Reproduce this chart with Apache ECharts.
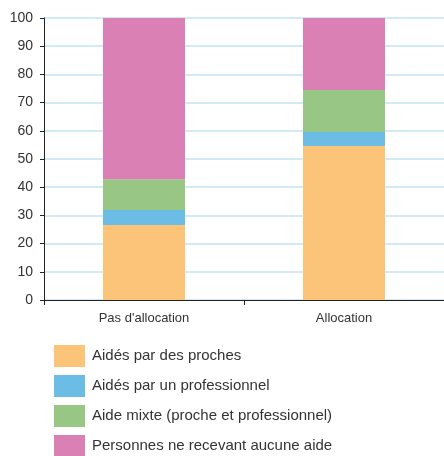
<!DOCTYPE html>
<html>
<head>
<meta charset="utf-8">
<script src="https://cdn.jsdelivr.net/npm/echarts@6/dist/echarts.min.js"></script>
<style>
  html, body { margin: 0; padding: 0; background: #fff; }
  #chart { width: 444px; height: 456px; }
</style>
</head>
<body>
<div id="chart"></div>
<script>
// Categories and stacked shares (%)
const categories = ["Pas d'allocation", "Allocation"];
const seriesNames = [
  "Aidés par des proches",
  "Aidés par un professionnel",
  "Aide mixte (proche et professionnel)",
  "Personnes ne recevant aucune aide"
];
const prochesValues = [26.6, 54.6];
const professionnelValues = [5.3, 5.0];
const mixteValues = [10.9, 14.9];
const aucuneValues = [57.2, 25.5];
const yTicks = [0, 10, 20, 30, 40, 50, 60, 70, 80, 90, 100];

const colors = ['#fbc478', '#6bbde6', '#98c785', '#db80b4'];
const valueSets = [prochesValues, professionnelValues, mixteValues, aucuneValues];

const chart = echarts.init(document.getElementById('chart'), null, { renderer: 'canvas' });
const font = 'Liberation Sans, Arial, Helvetica, sans-serif';

chart.setOption({
  animation: false,
  color: colors,
  grid: { left: 44, right: -3, top: 18, bottom: 156, containLabel: false },
  legend: {
    orient: 'vertical',
    left: 49,
    top: 340,
    height: 140,
    itemWidth: 31,
    itemHeight: 22,
    itemGap: 8,
    icon: 'rect',
    selectedMode: false,
    textStyle: { fontFamily: font, fontSize: 15, color: '#333', padding: [0, 0, 0, 2] },
    data: seriesNames
  },
  xAxis: {
    type: 'category',
    data: categories,
    boundaryGap: true,
    axisLine: { lineStyle: { color: '#222', width: 1 } },
    axisTick: { show: true, alignWithLabel: false, length: 5, lineStyle: { color: '#222' } },
    axisLabel: { fontFamily: font, fontSize: 13, color: '#333', margin: 12 },
    splitLine: { show: false }
  },
  yAxis: {
    type: 'value',
    min: yTicks[0],
    max: yTicks[yTicks.length - 1],
    interval: 10,
    axisLine: { show: true, lineStyle: { color: '#222', width: 1 } },
    axisTick: { show: true, length: 4, lineStyle: { color: '#222' } },
    axisLabel: { fontFamily: font, fontSize: 14, color: '#333', margin: 11 },
    splitLine: { show: true, lineStyle: { color: '#c3e2f4', width: 1.5 } }
  },
  series: seriesNames.map((name, i) => ({
    name: name,
    type: 'bar',
    stack: 'total',
    barWidth: 82,
    data: valueSets[i],
    itemStyle: { color: colors[i] }
  }))
});
</script>
</body>
</html>
